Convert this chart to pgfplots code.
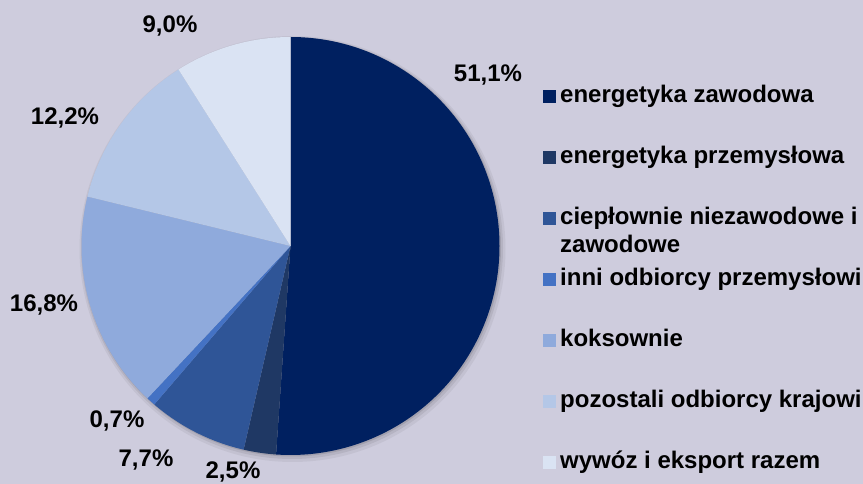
\documentclass[border=0pt]{standalone}
\usepackage{pgfplots}
\usepackage{pgfplotstable}
\pgfplotsset{compat=1.18}
\usepackage{fontspec}
\setmainfont{Liberation Sans}

\definecolor{bgcol}{HTML}{CECCDD}
\definecolor{c0}{HTML}{002060}
\definecolor{c1}{HTML}{1F3864}
\definecolor{c2}{HTML}{2F5597}
\definecolor{c3}{HTML}{4472C4}
\definecolor{c4}{HTML}{8FAADC}
\definecolor{c5}{HTML}{B4C7E7}
\definecolor{c6}{HTML}{DAE3F3}

% share of each group (%), label position (x, y baseline)
\pgfplotstableread[col sep=comma]{
value,lx,ly
51.1,488,402
2.5,233,5
7.7,146,17
0.7,117,56
16.8,44,172
12.2,65,359
9.0,170,451
}\coaldata

% cumulative angles, clockwise from the top
\def\cum{0}
\pgfplotsforeachungrouped \i in {0,...,6}{%
  \pgfplotstablegetelem{\i}{value}\of\coaldata
  \let\v\pgfplotsretval
  \pgfmathsetmacro\sa{90-3.6*\cum}%
  \pgfmathsetmacro\cum{\cum+\v}%
  \pgfmathsetmacro\ea{90-3.6*\cum}%
  \expandafter\xdef\csname sa\i\endcsname{\sa}%
  \expandafter\xdef\csname ea\i\endcsname{\ea}%
  \expandafter\xdef\csname val\i\endcsname{\v}%
  \pgfplotstablegetelem{\i}{lx}\of\coaldata
  \expandafter\xdef\csname lx\i\endcsname{\pgfplotsretval}%
  \pgfplotstablegetelem{\i}{ly}\of\coaldata
  \expandafter\xdef\csname ly\i\endcsname{\pgfplotsretval}%
}

\newcommand\pieslice[1]{%
  \fill[c#1] (axis cs:290.5,238) -- ++(\csname sa#1\endcsname:209pt)
    arc[start angle=\csname sa#1\endcsname, end angle=\csname ea#1\endcsname, radius=209pt] -- cycle;
  \node[anchor=base, inner sep=0pt, font=\bfseries\fontsize{24}{29}\selectfont]
    at (axis cs:\csname lx#1\endcsname,\csname ly#1\endcsname)
    {\pgfmathprintnumber[use comma, fixed, fixed zerofill, precision=1, assume math mode=true]{\csname val#1\endcsname}\%};
}

\begin{document}
\begin{tikzpicture}
\fill[bgcol] (0,0) rectangle (863pt,484pt);
\begin{axis}[
    at={(0,0)}, anchor=south west,
    width=863pt, height=484pt, scale only axis,
    xmin=0, xmax=863, ymin=0, ymax=484,
    hide axis, clip=false,
]
% soft shadow under the pie
\fill[black, opacity=0.05] (axis cs:292.5,235) circle[radius=213pt];
\fill[black, opacity=0.07] (axis cs:292,236) circle[radius=211pt];
\fill[black, opacity=0.10] (axis cs:291.5,237) circle[radius=209.5pt];
\pgfplotsinvokeforeach{0,...,6}{\pieslice{#1}}
\end{axis}

% legend
\begin{scope}[font=\bfseries\fontsize{24}{29}\selectfont]
\foreach \nm [count=\k from 0] in {energetyka zawodowa, energetyka przemysłowa,
    ciepłownie niezawodowe i, inni odbiorcy przemysłowi, koksownie,
    pozostali odbiorcy krajowi, wywóz i eksport razem}{
  \pgfmathsetmacro\by{484-103-61*\k}
  \fill[c\k] (543pt,\by pt) rectangle ++(13pt,12.7pt);
  \node[anchor=base west, inner sep=0pt] at (560pt,\by pt) {\nm};
}
\node[anchor=base west, inner sep=0pt] at (560pt,231pt) {zawodowe};
\end{scope}
\pgfresetboundingbox
\path (0,0) rectangle (863pt,484pt);
\end{tikzpicture}
\end{document}
